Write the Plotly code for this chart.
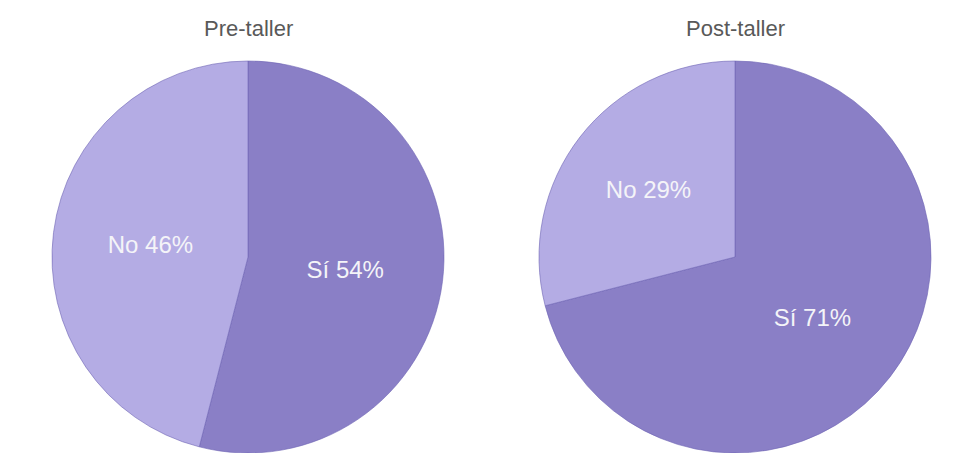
import plotly.graph_objects as go

categories = ["Sí", "No"]
pre_values = [54, 46]
post_values = [71, 29]
titles = ["Pre-taller", "Post-taller"]

colors = ["#8a7fc6", "#b4ace4"]
W, H = 963, 453
OFF = 8  # default page body margin

fig = go.Figure()

def dom(cx, cy, r, wx):
    cx -= OFF
    cy -= OFF
    return dict(x=[max(0.0, (cx - wx) / W), min(1.0, (cx + wx) / W)],
                y=[max(0.0, (H - cy - r) / H), min(1.0, (H - cy + r) / H)])

for vals, d in [(pre_values, dom(248, 257, 196, 236)), (post_values, dom(735, 257, 196, 228))]:
    fig.add_trace(go.Pie(
        labels=categories,
        values=vals,
        sort=False,
        direction="clockwise",
        rotation=0,
        domain=d,
        marker=dict(colors=colors, line=dict(color="rgba(110,100,180,0.6)", width=1)),
        texttemplate="%{label} %{value}%",
        textposition="inside",
        insidetextorientation="horizontal",
        textfont=dict(family="Liberation Sans, Arial, sans-serif", size=24, color="#f4f4f8"),
        hoverinfo="label+percent",
        showlegend=False,
    ))

for t, x in zip(titles, [248, 735]):
    fig.add_annotation(text=t, x=(x - OFF) / W, y=1 - (28 - OFF) / H, xref="paper", yref="paper",
                       showarrow=False, xanchor="center", yanchor="middle",
                       font=dict(family="Liberation Sans, Arial, sans-serif", size=22, color="#595959"))

fig.update_layout(
    width=W, height=H,
    margin=dict(l=0, r=0, t=0, b=0),
    paper_bgcolor="white",
    plot_bgcolor="white",
)

fig.write_html("out.html")
